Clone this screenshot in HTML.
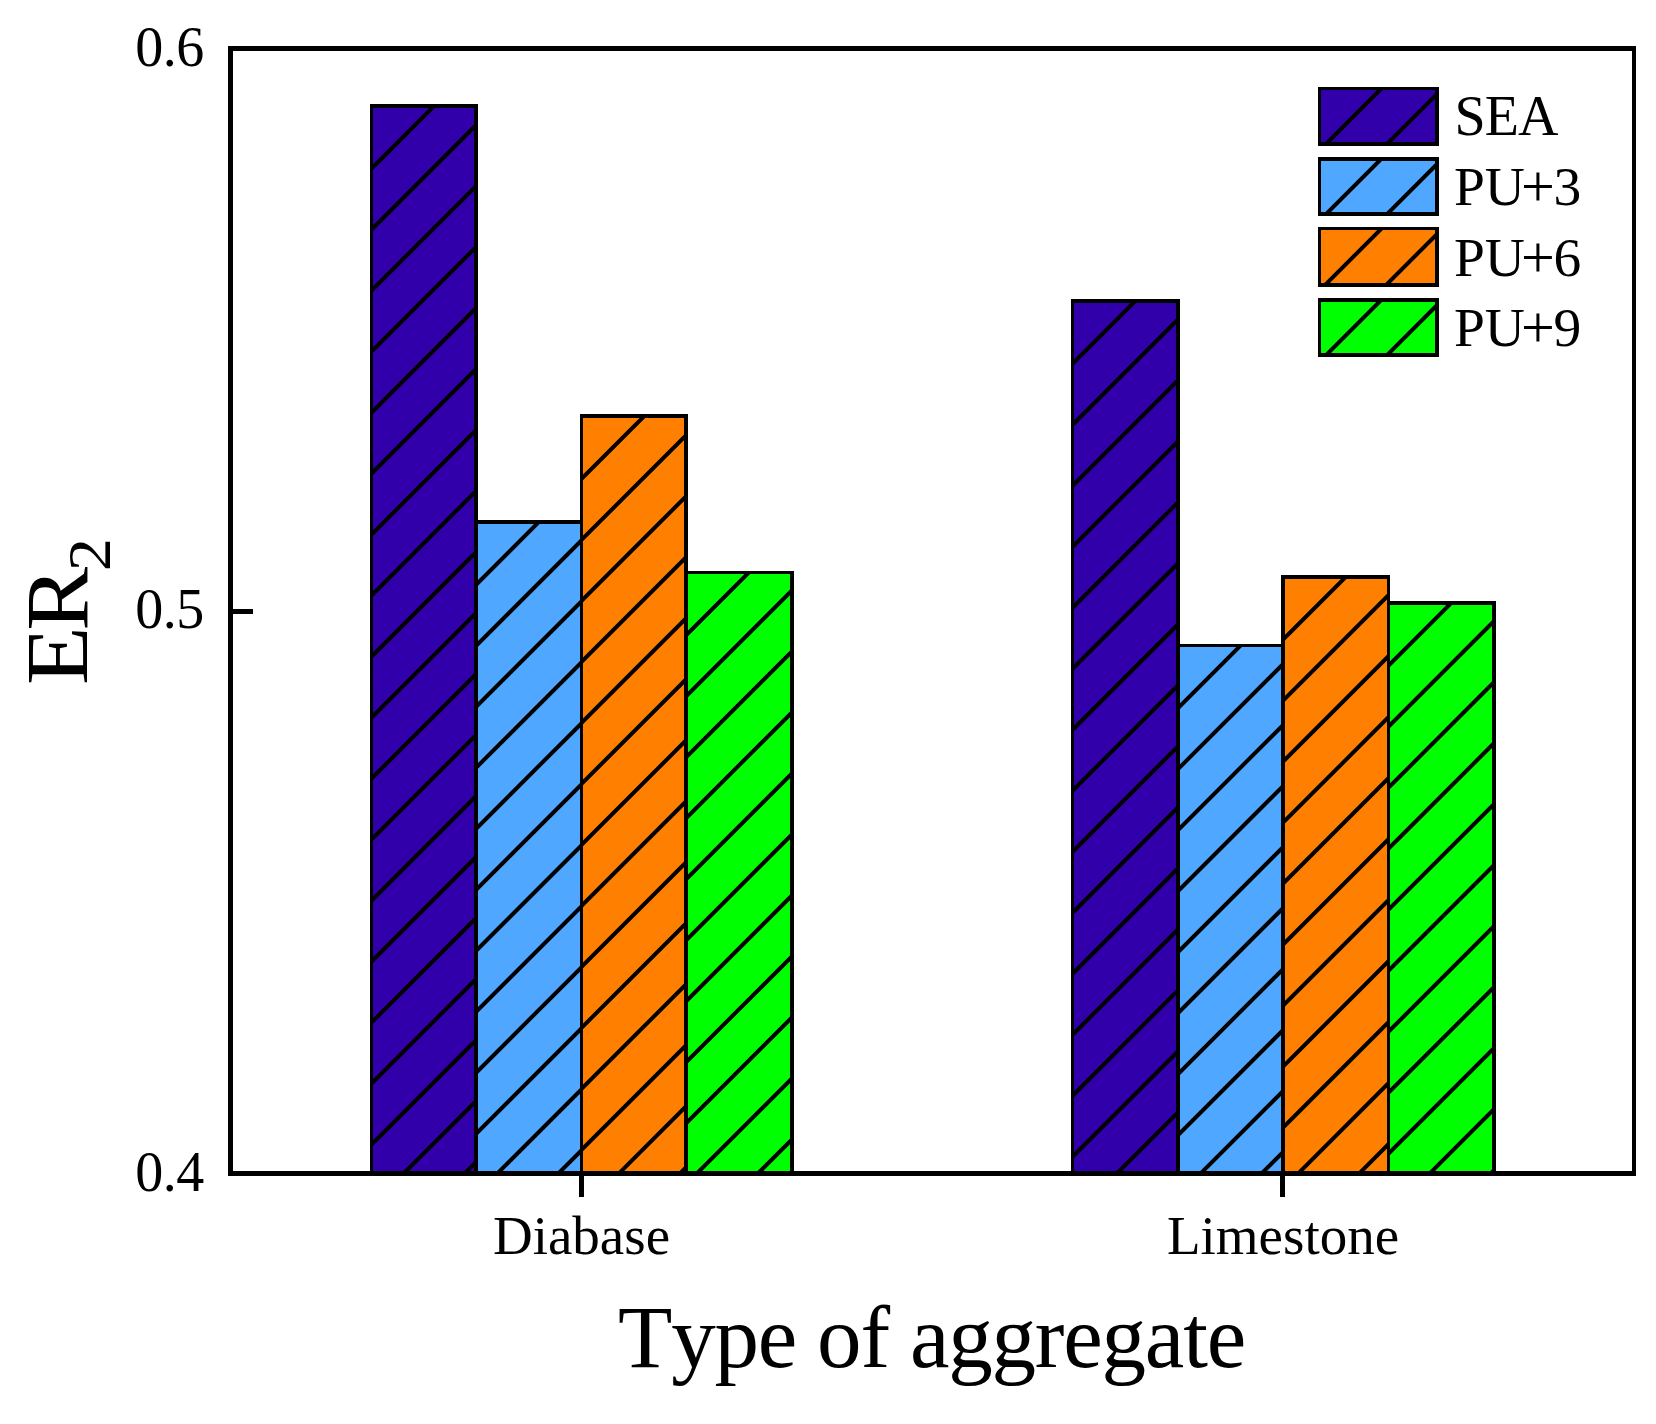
<!DOCTYPE html>
<html lang="en"><head><meta charset="utf-8"><title>ER2 by type of aggregate</title>
<style>html,body{margin:0;padding:0;background:#fff}body{width:1656px;height:1424px;overflow:hidden}svg{display:block}text{font-family:"Liberation Serif",serif;fill:#000}</style>
</head><body>
<svg width="1656" height="1424" viewBox="0 0 1656 1424">
<rect width="1656" height="1424" fill="#fff"/>
<g id="bars">
<clipPath id="c1"><rect x="371.50" y="105.85" width="104.50" height="1067.65"/></clipPath>
<rect x="371.50" y="105.85" width="104.50" height="1067.65" fill="#3100AA"/>
<path clip-path="url(#c1)" d="M366.50 173.55 L439.20 100.85 M366.50 234.55 L500.20 100.85 M366.50 295.55 L561.20 100.85 M366.50 356.55 L622.20 100.85 M366.50 417.55 L683.20 100.85 M366.50 478.55 L744.20 100.85 M366.50 539.55 L805.20 100.85 M366.50 600.55 L866.20 100.85 M366.50 661.55 L927.20 100.85 M366.50 722.55 L988.20 100.85 M366.50 783.55 L1049.20 100.85 M366.50 844.55 L1110.20 100.85 M366.50 905.55 L1171.20 100.85 M366.50 966.55 L1232.20 100.85 M366.50 1027.55 L1293.20 100.85 M366.50 1088.55 L1354.20 100.85 M366.50 1149.55 L1415.20 100.85 M366.50 1210.55 L1476.20 100.85 M366.50 1271.55 L1537.20 100.85" stroke="#000" stroke-width="4.00" fill="none"/>
<rect x="371.50" y="105.85" width="104.50" height="1067.65" fill="none" stroke="#000" stroke-width="3.50" shape-rendering="crispEdges"/>
<clipPath id="c2"><rect x="476.00" y="522.10" width="105.50" height="651.40"/></clipPath>
<rect x="476.00" y="522.10" width="105.50" height="651.40" fill="#50A7FF"/>
<path clip-path="url(#c2)" d="M471.00 589.80 L543.70 517.10 M471.00 650.80 L604.70 517.10 M471.00 711.80 L665.70 517.10 M471.00 772.80 L726.70 517.10 M471.00 833.80 L787.70 517.10 M471.00 894.80 L848.70 517.10 M471.00 955.80 L909.70 517.10 M471.00 1016.80 L970.70 517.10 M471.00 1077.80 L1031.70 517.10 M471.00 1138.80 L1092.70 517.10 M471.00 1199.80 L1153.70 517.10 M471.00 1260.80 L1214.70 517.10" stroke="#000" stroke-width="4.00" fill="none"/>
<rect x="476.00" y="522.10" width="105.50" height="651.40" fill="none" stroke="#000" stroke-width="3.50" shape-rendering="crispEdges"/>
<clipPath id="c3"><rect x="581.50" y="416.20" width="104.50" height="757.30"/></clipPath>
<rect x="581.50" y="416.20" width="104.50" height="757.30" fill="#FF8000"/>
<path clip-path="url(#c3)" d="M576.50 483.90 L649.20 411.20 M576.50 544.90 L710.20 411.20 M576.50 605.90 L771.20 411.20 M576.50 666.90 L832.20 411.20 M576.50 727.90 L893.20 411.20 M576.50 788.90 L954.20 411.20 M576.50 849.90 L1015.20 411.20 M576.50 910.90 L1076.20 411.20 M576.50 971.90 L1137.20 411.20 M576.50 1032.90 L1198.20 411.20 M576.50 1093.90 L1259.20 411.20 M576.50 1154.90 L1320.20 411.20 M576.50 1215.90 L1381.20 411.20 M576.50 1276.90 L1442.20 411.20" stroke="#000" stroke-width="4.00" fill="none"/>
<rect x="581.50" y="416.20" width="104.50" height="757.30" fill="none" stroke="#000" stroke-width="3.50" shape-rendering="crispEdges"/>
<clipPath id="c4"><rect x="686.00" y="572.60" width="105.90" height="600.90"/></clipPath>
<rect x="686.00" y="572.60" width="105.90" height="600.90" fill="#00FF00"/>
<path clip-path="url(#c4)" d="M681.00 640.30 L753.70 567.60 M681.00 701.30 L814.70 567.60 M681.00 762.30 L875.70 567.60 M681.00 823.30 L936.70 567.60 M681.00 884.30 L997.70 567.60 M681.00 945.30 L1058.70 567.60 M681.00 1006.30 L1119.70 567.60 M681.00 1067.30 L1180.70 567.60 M681.00 1128.30 L1241.70 567.60 M681.00 1189.30 L1302.70 567.60 M681.00 1250.30 L1363.70 567.60" stroke="#000" stroke-width="4.00" fill="none"/>
<rect x="686.00" y="572.60" width="105.90" height="600.90" fill="none" stroke="#000" stroke-width="3.50" shape-rendering="crispEdges"/>
<clipPath id="c5"><rect x="1072.60" y="301.00" width="105.40" height="872.50"/></clipPath>
<rect x="1072.60" y="301.00" width="105.40" height="872.50" fill="#3100AA"/>
<path clip-path="url(#c5)" d="M1067.60 368.70 L1140.30 296.00 M1067.60 429.70 L1201.30 296.00 M1067.60 490.70 L1262.30 296.00 M1067.60 551.70 L1323.30 296.00 M1067.60 612.70 L1384.30 296.00 M1067.60 673.70 L1445.30 296.00 M1067.60 734.70 L1506.30 296.00 M1067.60 795.70 L1567.30 296.00 M1067.60 856.70 L1628.30 296.00 M1067.60 917.70 L1689.30 296.00 M1067.60 978.70 L1750.30 296.00 M1067.60 1039.70 L1811.30 296.00 M1067.60 1100.70 L1872.30 296.00 M1067.60 1161.70 L1933.30 296.00 M1067.60 1222.70 L1994.30 296.00 M1067.60 1283.70 L2055.30 296.00" stroke="#000" stroke-width="4.00" fill="none"/>
<rect x="1072.60" y="301.00" width="105.40" height="872.50" fill="none" stroke="#000" stroke-width="3.50" shape-rendering="crispEdges"/>
<clipPath id="c6"><rect x="1178.00" y="645.40" width="105.00" height="528.10"/></clipPath>
<rect x="1178.00" y="645.40" width="105.00" height="528.10" fill="#50A7FF"/>
<path clip-path="url(#c6)" d="M1173.00 713.10 L1245.70 640.40 M1173.00 774.10 L1306.70 640.40 M1173.00 835.10 L1367.70 640.40 M1173.00 896.10 L1428.70 640.40 M1173.00 957.10 L1489.70 640.40 M1173.00 1018.10 L1550.70 640.40 M1173.00 1079.10 L1611.70 640.40 M1173.00 1140.10 L1672.70 640.40 M1173.00 1201.10 L1733.70 640.40 M1173.00 1262.10 L1794.70 640.40" stroke="#000" stroke-width="4.00" fill="none"/>
<rect x="1178.00" y="645.40" width="105.00" height="528.10" fill="none" stroke="#000" stroke-width="3.50" shape-rendering="crispEdges"/>
<clipPath id="c7"><rect x="1283.00" y="577.00" width="105.50" height="596.50"/></clipPath>
<rect x="1283.00" y="577.00" width="105.50" height="596.50" fill="#FF8000"/>
<path clip-path="url(#c7)" d="M1278.00 644.70 L1350.70 572.00 M1278.00 705.70 L1411.70 572.00 M1278.00 766.70 L1472.70 572.00 M1278.00 827.70 L1533.70 572.00 M1278.00 888.70 L1594.70 572.00 M1278.00 949.70 L1655.70 572.00 M1278.00 1010.70 L1716.70 572.00 M1278.00 1071.70 L1777.70 572.00 M1278.00 1132.70 L1838.70 572.00 M1278.00 1193.70 L1899.70 572.00 M1278.00 1254.70 L1960.70 572.00" stroke="#000" stroke-width="4.00" fill="none"/>
<rect x="1283.00" y="577.00" width="105.50" height="596.50" fill="none" stroke="#000" stroke-width="3.50" shape-rendering="crispEdges"/>
<clipPath id="c8"><rect x="1388.50" y="603.00" width="105.50" height="570.50"/></clipPath>
<rect x="1388.50" y="603.00" width="105.50" height="570.50" fill="#00FF00"/>
<path clip-path="url(#c8)" d="M1383.50 670.70 L1456.20 598.00 M1383.50 731.70 L1517.20 598.00 M1383.50 792.70 L1578.20 598.00 M1383.50 853.70 L1639.20 598.00 M1383.50 914.70 L1700.20 598.00 M1383.50 975.70 L1761.20 598.00 M1383.50 1036.70 L1822.20 598.00 M1383.50 1097.70 L1883.20 598.00 M1383.50 1158.70 L1944.20 598.00 M1383.50 1219.70 L2005.20 598.00 M1383.50 1280.70 L2066.20 598.00" stroke="#000" stroke-width="4.00" fill="none"/>
<rect x="1388.50" y="603.00" width="105.50" height="570.50" fill="none" stroke="#000" stroke-width="3.50" shape-rendering="crispEdges"/>
</g>
<g id="axes" stroke="#000" stroke-width="4.80" fill="none" shape-rendering="crispEdges">
<rect x="230.50" y="48.60" width="1403.50" height="1124.90"/>
<path d="M230.50 611.5 H253"/>
<path d="M581.5 1173.50 V1197 M1282.5 1173.50 V1197"/>
</g>
<g id="legend">
<clipPath id="c9"><rect x="1319.50" y="88.60" width="117.50" height="55.60"/></clipPath>
<rect x="1319.50" y="88.60" width="117.50" height="55.60" fill="#3100AA"/>
<path clip-path="url(#c9)" d="M1314.50 155.50 L1386.40 83.60 M1314.50 216.50 L1447.40 83.60" stroke="#000" stroke-width="4.00" fill="none"/>
<rect x="1319.50" y="88.60" width="117.50" height="55.60" fill="none" stroke="#000" stroke-width="3.50" shape-rendering="crispEdges"/>
<clipPath id="c10"><rect x="1319.50" y="158.80" width="117.50" height="55.40"/></clipPath>
<rect x="1319.50" y="158.80" width="117.50" height="55.40" fill="#50A7FF"/>
<path clip-path="url(#c10)" d="M1314.50 225.70 L1386.40 153.80 M1314.50 286.70 L1447.40 153.80" stroke="#000" stroke-width="4.00" fill="none"/>
<rect x="1319.50" y="158.80" width="117.50" height="55.40" fill="none" stroke="#000" stroke-width="3.50" shape-rendering="crispEdges"/>
<clipPath id="c11"><rect x="1319.50" y="228.70" width="117.50" height="56.20"/></clipPath>
<rect x="1319.50" y="228.70" width="117.50" height="56.20" fill="#FF8000"/>
<path clip-path="url(#c11)" d="M1314.50 295.60 L1386.40 223.70 M1314.50 356.60 L1447.40 223.70" stroke="#000" stroke-width="4.00" fill="none"/>
<rect x="1319.50" y="228.70" width="117.50" height="56.20" fill="none" stroke="#000" stroke-width="3.50" shape-rendering="crispEdges"/>
<clipPath id="c12"><rect x="1319.50" y="299.80" width="117.50" height="55.40"/></clipPath>
<rect x="1319.50" y="299.80" width="117.50" height="55.40" fill="#00FF00"/>
<path clip-path="url(#c12)" d="M1314.50 366.70 L1386.40 294.80 M1314.50 427.70 L1447.40 294.80" stroke="#000" stroke-width="4.00" fill="none"/>
<rect x="1319.50" y="299.80" width="117.50" height="55.40" fill="none" stroke="#000" stroke-width="3.50" shape-rendering="crispEdges"/>
</g>
<g id="labels">
<text x="135.2" y="65.8" font-size="56" letter-spacing="-0.5">0.6</text>
<text x="135.2" y="628.2" font-size="56" letter-spacing="-0.5">0.5</text>
<text x="135.2" y="1190.8" font-size="56" letter-spacing="-0.5">0.4</text>
<text x="581.5" y="1254" font-size="55" text-anchor="middle">Diabase</text>
<text x="1283" y="1254.2" font-size="55" text-anchor="middle">Limestone</text>
<text x="931.5" y="1367" font-size="89" letter-spacing="-1.2" text-anchor="middle" style="font-kerning:none">Type of aggregate</text>
<text transform="translate(86.6 684.9) rotate(-90) scale(1.09 1)" font-size="88" letter-spacing="-4.07">ER<tspan font-size="61" dy="23">2</tspan></text>
<text x="1454.5" y="135" font-size="56" letter-spacing="-0.9">SEA</text>
<text x="1454" y="205" font-size="55.5">PU<tspan font-size="60" dx="-4" dy="1">+</tspan><tspan dx="-1.3" dy="-1">3</tspan></text>
<text x="1454" y="275.9" font-size="55.5">PU<tspan font-size="60" dx="-4" dy="1">+</tspan><tspan dx="-1.3" dy="-1">6</tspan></text>
<text x="1454" y="346" font-size="55.5">PU<tspan font-size="60" dx="-4" dy="1">+</tspan><tspan dx="-1.3" dy="-1">9</tspan></text>
</g>
</svg></body></html>
